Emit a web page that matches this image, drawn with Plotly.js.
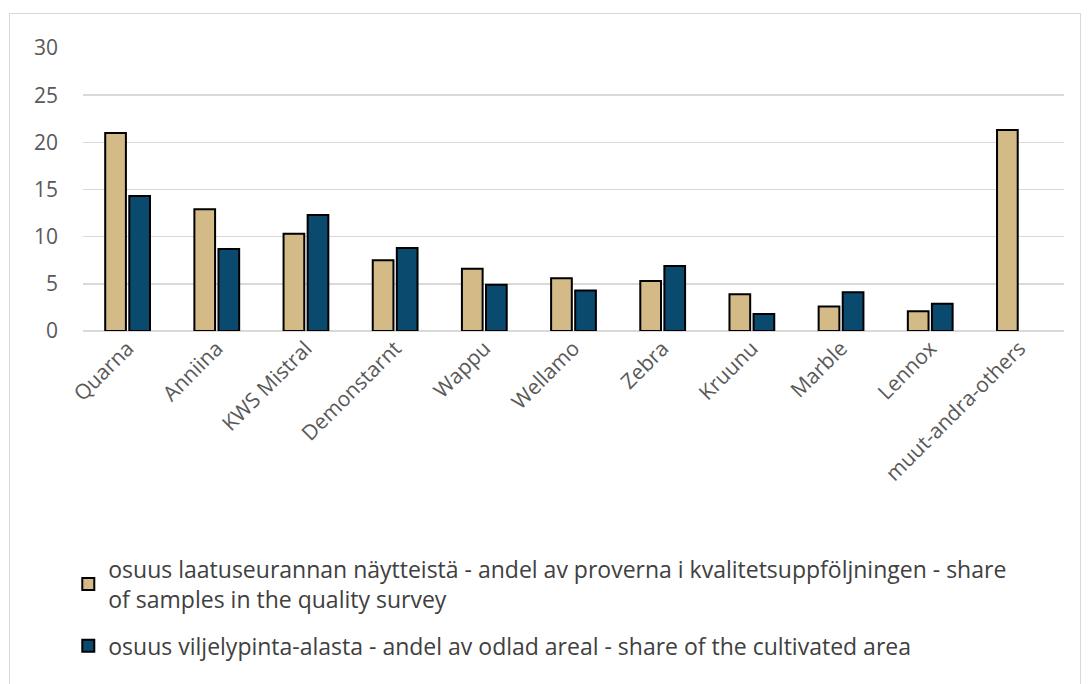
<!DOCTYPE html>
<html><head><meta charset="utf-8">
<script src="https://cdn.plot.ly/plotly-3.0.1.min.js"></script>
<style>
html,body{margin:0;padding:0;background:#fff;}
#frame{position:absolute;left:9px;top:13px;width:1072px;height:690px;border:1px solid #d9d9d9;box-sizing:border-box;}
#chart{position:absolute;left:0;top:0;width:1088px;height:684px;}
</style></head>
<body><div id="frame"></div><div id="chart"></div>
<script>
const categories = ["Quarna","Anniina","KWS Mistral","Demonstarnt","Wappu","Wellamo","Zebra","Kruunu","Marble","Lennox","muut-andra-others"];
const sampleShare = [21.0, 12.9, 10.3, 7.5, 6.6, 5.6, 5.3, 3.9, 2.6, 2.1, 21.3];
const areaShare = [14.3, 8.7, 12.3, 8.8, 4.9, 4.3, 6.9, 1.8, 4.1, 2.9, null];
const seriesNames = [
  "osuus laatuseurannan näytteistä - andel av proverna i kvalitetsuppföljningen - share<br>of samples in the quality survey",
  "osuus viljelypinta-alasta - andel av odlad areal - share of the cultivated area"
];
const yTicks = [0,5,10,15,20,25,30];

const font = "'Open Sans', sans-serif";
const traces = [
  {type:"bar", name:seriesNames[0], legendgroup:"a", x:categories, y:sampleShare,
   marker:{color:"#D3BA86", line:{color:"#000", width:2}}},
  {type:"bar", name:seriesNames[1], legendgroup:"b", x:categories, y:areaShare,
   marker:{color:"#0B4A6F", line:{color:"#000", width:2}}}
];
const layout = {
  width:1088, height:684,
  paper_bgcolor:"rgba(0,0,0,0)", plot_bgcolor:"rgba(0,0,0,0)",
  margin:{l:83, r:24, t:48, b:353},
  barmode:"group", bargap:0.46, bargroupgap:0.14,
  font:{family:font, color:"#595959", size:20},
  xaxis:{type:"category", tickangle:-45, showgrid:false, showline:false, zeroline:false,
         ticks:"", tickfont:{size:21, color:"#595959", family:font}},
  yaxis:{range:[0,30], tickvals:yTicks, showgrid:true, gridcolor:"#d9d9d9", gridwidth:1.5,
         zeroline:true, zerolinecolor:"#d9d9d9", zerolinewidth:1.5, showline:false, ticks:"",
         ticklabelstandoff:24, tickfont:{size:21, color:"#595959", family:font}},
  showlegend:true,
  legend:{orientation:"v", x:-0.015, xanchor:"left", y:-0.765, yanchor:"top",
          font:{size:23, color:"#404040", family:font}, itemwidth:30, tracegroupgap:14,
          traceorder:"grouped", bgcolor:"rgba(0,0,0,0)"}
};
Plotly.newPlot("chart", traces, layout, {displayModeBar:false, staticPlot:true});
</script></body></html>
